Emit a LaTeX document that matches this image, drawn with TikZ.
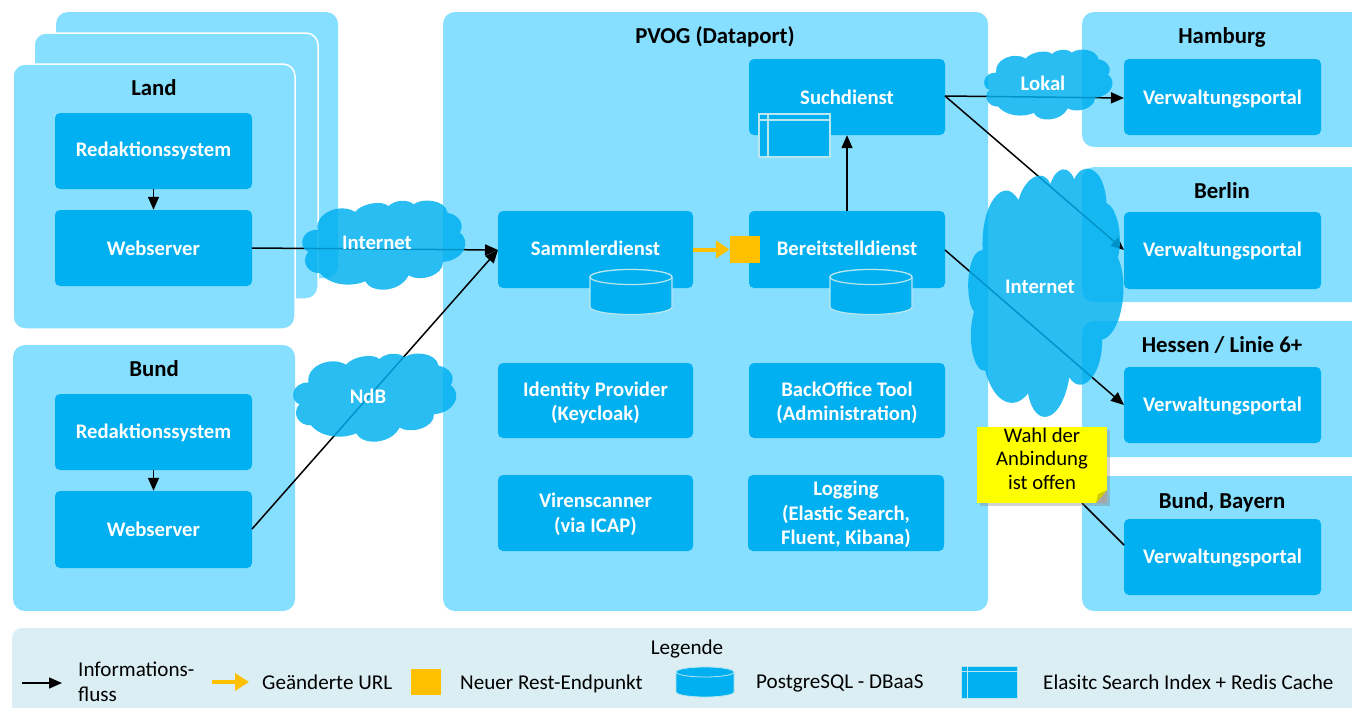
\documentclass[tikz,border=0pt]{standalone}
\usepackage{fontspec}
\setmainfont{Carlito}
\usetikzlibrary{arrows.meta,shadows}
\definecolor{lightb}{HTML}{86DFFF}
\definecolor{darkb}{HTML}{00B0F0}
\definecolor{legbg}{HTML}{DAEEF3}
\definecolor{iconline}{HTML}{B9E6EF}
\definecolor{orng}{HTML}{FFC000}
\definecolor{foldc}{HTML}{CDCD00}
\definecolor{notey}{HTML}{FFFF00}
\tikzset{
  x=1pt,y=-1pt,
  container/.style={fill=lightb,rounded corners=12pt},
  innerbox/.style={fill=darkb,rounded corners=5pt,text=white,font=\fontsize{20.7}{24.5}\selectfont\bfseries,align=center},
  titletext/.style={text=black,font=\fontsize{22.8}{26}\selectfont\bfseries,inner sep=0pt},
  legtext/.style={text=black,font=\fontsize{21.1}{25}\selectfont,inner sep=0pt},
  flow/.style={draw=black,line width=1.5pt,-{Triangle[length=13pt,width=11pt]}},
  plainline/.style={draw=black,line width=1.5pt},
  urlflow/.style={draw=orng,line width=4pt,-{Triangle[length=14pt,width=17pt]}},
  wolke/.style={fill=darkb,fill opacity=0.84,draw=none},
  wolketext/.style={text=white,font=\fontsize{20.7}{22}\selectfont\bfseries,inner sep=0pt},
  iconstroke/.style={draw=iconline,line width=1.2pt,fill=darkb},
}
% box with pixel edges: name, x0, y0, x1, y1, style, text
\newcommand{\bx}[7]{\node[#6,inner sep=0pt,minimum width={(#4-#2)*1pt},minimum height={(#5-#3)*1pt}] (#1) at ({(#2+#4)/2},{(#3+#5)/2}) {#7};}
% text lowered inside its box without changing the box
\newcommand{\tl}[2]{\raisebox{-#1pt}[\height][\depth]{\begin{tabular}{@{}c@{}}#2\end{tabular}}}
% cloud in a bounding box: x0,y0,x1,y1 (outline stretches with the box)
\newcommand{\wolkenform}[4]{%
  \begin{scope}[shift={(#1,#2)},xscale={(#3-#1)/491},yscale={(#4-#2)/260}]
  \begin{scope}[shift={(-186,-65)}]
  \path[wolke] (232,150)
    .. controls (225,100) and (300,70) .. (345,97)
    .. controls (365,72) and (425,62) .. (445,80)
    .. controls (465,60) and (505,60) .. (520,75)
    .. controls (545,55) and (615,60) .. (622,100)
    .. controls (655,105) and (675,135) .. (658,158)
    .. controls (695,185) and (670,240) .. (608,245)
    .. controls (610,285) and (540,305) .. (505,285)
    .. controls (480,335) and (395,340) .. (375,302)
    .. controls (335,320) and (270,315) .. (240,278)
    .. controls (205,280) and (180,245) .. (205,215)
    .. controls (175,205) and (180,150) .. (232,150) -- cycle;
  \end{scope}
  \end{scope}}
% cylinder: cx, half width, ellipse centre y, ry, y where the side ends, style
\newcommand{\zylinder}[6]{%
  \path[#6] ({#1-#2},#3) -- ({#1-#2},#5) arc[start angle=180,end angle=0,x radius=#2,y radius=#4] -- ({#1+#2},#3) arc[start angle=0,end angle=-180,x radius=#2,y radius=#4] -- cycle;
  \path[#6] (#1,#3) ellipse[x radius=#2,y radius=#4];}
\begin{document}
\begin{tikzpicture}
\useasboundingbox (0,0) rectangle (1352,707);
\clip (0,0) rectangle (1352,707);
% containers
\bx{landc}{56}{12}{338}{278}{container}{}
\bx{landb}{34}{33}{318}{299}{container,draw=white,line width=1.5pt}{}
\bx{land}{13}{64}{295}{329}{container,draw=white,line width=1.5pt}{}
\bx{bund}{13}{345}{295}{611}{container}{}
\bx{pvog}{443}{12}{988}{611}{container}{}
\bx{hh}{1082}{12}{1380}{147}{container}{}
\bx{be}{1082}{167}{1380}{302}{container}{}
\bx{he}{1082}{321}{1380}{457}{container}{}
\bx{by}{1082}{476}{1380}{611}{container}{}
\bx{leg}{12}{628}{1380}{740}{fill=legbg,rounded corners=10pt}{}
% titles
\node[titletext] (tland) at (154,88) {Land};
\node[titletext] (tbund) at (154,369) {Bund};
\node[titletext] (tpvog) at (715,37) {PVOG (Dataport)};
\node[titletext] (thh) at (1222,37) {Hamburg};
\node[titletext] (tbe) at (1222,191) {Berlin};
\node[titletext] (the) at (1222,345) {Hessen / Linie 6+};
\node[titletext] (tby) at (1222,502) {Bund,\ Bayern};
% inner boxes
\bx{red1}{55}{113}{252}{189}{innerbox}{\tl{1}{Redaktionssystem}}
\bx{web1}{55}{210}{252}{286}{innerbox}{Webserver}
\bx{red2}{55}{394}{252}{470}{innerbox}{\tl{2}{Redaktionssystem}}
\bx{web2}{55}{491}{252}{568}{innerbox}{Webserver}
\bx{such}{749}{59}{945}{135}{innerbox}{Suchdienst}
\bx{samm}{498}{211}{693}{288}{innerbox}{\tl{1}{Sammlerdienst}}
\bx{bereit}{749}{211}{945}{288}{innerbox}{\tl{1}{Bereitstelldienst}}
\bx{idp}{498}{363}{693}{438}{innerbox}{\tl{3}{Identity Provider\\(Keycloak)}}
\bx{bo}{749}{363}{945}{438}{innerbox}{\tl{3}{BackOffice Tool\\(Administration)}}
\bx{viren}{498}{475}{693}{551}{innerbox}{\tl{2}{Virenscanner\\(via ICAP)}}
\bx{logg}{748}{475}{944}{551}{innerbox}{\tl{2.5}{Logging\\(Elastic Search,\\Fluent, Kibana)}}
\bx{vp1}{1124}{59}{1321}{135}{innerbox}{\tl{3}{Verwaltungsportal}}
\bx{vp2}{1124}{212}{1321}{289}{innerbox}{\tl{1}{Verwaltungsportal}}
\bx{vp3}{1124}{367}{1321}{443}{innerbox}{\tl{2}{Verwaltungsportal}}
\bx{vp4}{1124}{519}{1321}{595}{innerbox}{\tl{2}{Verwaltungsportal}}
% cylinders and index icon
\zylinder{631}{41}{277}{7.5}{307}{iconstroke}
\zylinder{871}{41}{277}{7.5}{307}{iconstroke}
\path[iconstroke] (759,114) rectangle (830,157);
\path[draw=iconline,line width=1.2pt] (759,120) -- (830,120) (768,114) -- (768,157);
% endpoint square
\bx{endp}{730}{236}{760}{263}{fill=orng}{}
% connectors
\coordinate (w1e) at (252,248);
\coordinate (w2e) at (252,529);
\coordinate (se) at (945,96);
\coordinate (be) at (945,250);
\coordinate (v1w) at (1124,98);
\coordinate (v2w) at (1124,250);
\coordinate (v3w) at (1124,405);
\coordinate (v4w) at (1124,545);
\coordinate (nl) at (1082,503);
\coordinate (sw) at (498,250);
\draw[flow] (red1) -- (web1);
\draw[flow] (red2) -- (web2);
\draw[flow] (w1e) -- (sw);
\draw[flow] (w2e) -- (sw);
\draw[flow] (bereit) -- (such);
\draw[urlflow] (samm.east) -- (endp.west);
\draw[flow] (se) -- (v1w);
\draw[flow] (se) -- (v2w);
\draw[flow] (be) -- (v3w);
\draw[plainline] (nl) -- (v4w);
% clouds
\wolkenform{302}{201}{466}{289}
\node[wolketext] (c1) at (377,243) {Internet};
\wolkenform{293}{354}{457}{441}
\node[wolketext] (c2) at (368,396) {NdB};
\wolkenform{984}{50}{1113}{119}
\node[wolketext] (c3) at (1043,83) {Lokal};
\wolkenform{968}{170}{1124}{415}
\node[wolketext] (c4) at (1040,287) {Internet};
% note
\bx{note}{977}{427}{1107}{503}{fill=notey,drop shadow={shadow xshift=3pt,shadow yshift=-3pt,opacity=.35},text=black,font=\fontsize{20.7}{23.5}\selectfont,align=center}{\tl{-4}{Wahl der\\Anbindung\\ist offen}}
\path[fill=black!35] (1107,490) -- (1107,503) -- (1096,503) -- cycle;
\path[fill=foldc] (1107,490) -- (1096,503) -- (1098,494) -- cycle;
% legend
\node[legtext] (lt) at (687,649) {Legende};
\coordinate (la) at (22,683);
\coordinate (lb) at (62,683);
\draw[flow] (la) -- (lb);
\node[legtext,anchor=west,align=left] (l1) at (78,682) {Informations-\\fluss};
\coordinate (lc) at (212,682);
\coordinate (ld) at (249,682);
\draw[urlflow] (lc) -- (ld);
\node[legtext,anchor=west] (l2) at (262,682) {Geänderte URL};
\bx{lsq}{411}{669}{441}{695}{fill=orng}{}
\node[legtext,anchor=west] (l3) at (460,684) {Neuer Rest-Endpunkt};
\zylinder{705}{29}{672}{5}{692}{fill=darkb,draw=iconline,line width=.8pt}
\node[legtext,anchor=west] (l4) at (756,683.5) {PostgreSQL - DBaaS};
\path[fill=darkb,draw=iconline,line width=1pt] (961,666) rectangle (1017,698);
\path[draw=iconline,line width=1pt] (961,671) -- (1017,671) (967,666) -- (967,698);
\node[legtext,anchor=west] (l5) at (1043,682) {Elasitc Search Index + Redis Cache};
\end{tikzpicture}
\end{document}
